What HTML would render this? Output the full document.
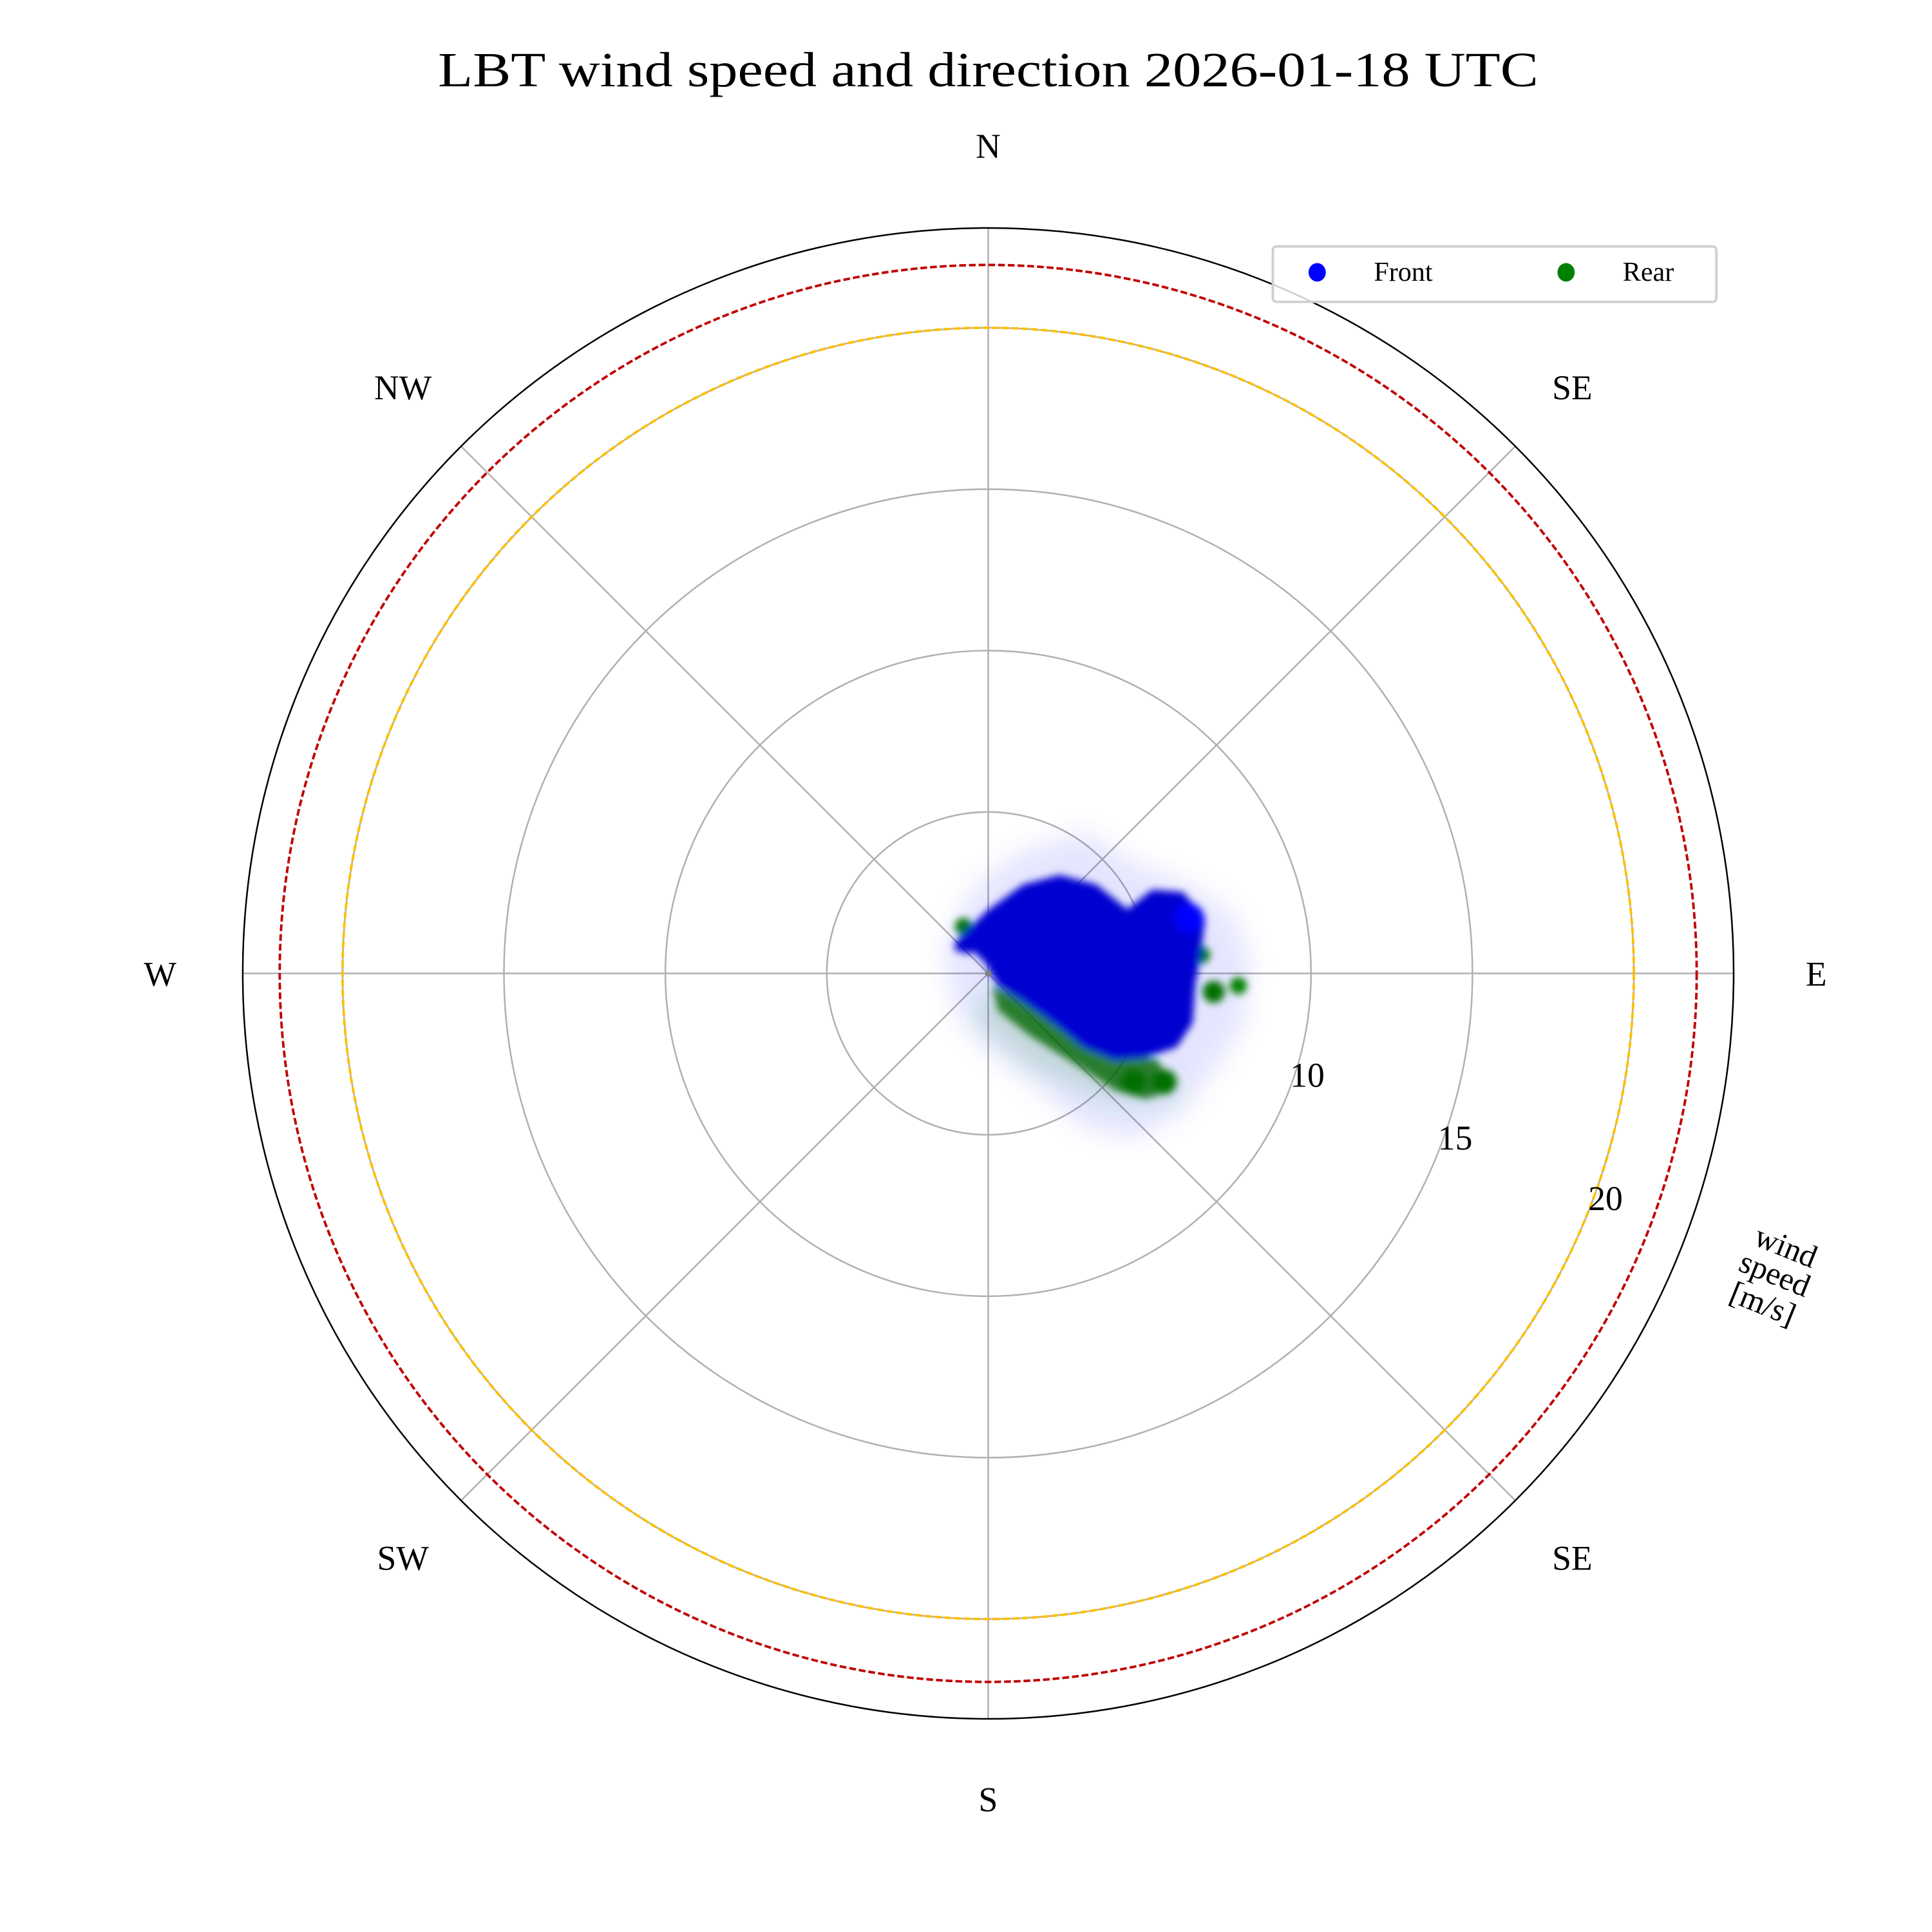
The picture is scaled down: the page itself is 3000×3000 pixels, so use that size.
<!DOCTYPE html>
<html><head><meta charset="utf-8"><style>
html,body{margin:0;padding:0;background:#fff}
svg{display:block}
text{font-family:"Liberation Serif",serif;fill:#000}
</style></head><body>
<svg width="3000" height="3000" viewBox="0 0 3000 3000" xmlns="http://www.w3.org/2000/svg">
<defs>
<filter id="b1" x="-50%" y="-50%" width="200%" height="200%"><feGaussianBlur stdDeviation="10"/></filter>
<filter id="b2" x="-50%" y="-50%" width="200%" height="200%"><feGaussianBlur stdDeviation="3"/></filter>
</defs>
<rect width="3000" height="3000" fill="#fff"/>
<g transform="scale(1.9133)">
<text x="802" y="70" font-size="40" text-anchor="middle" textLength="893" lengthAdjust="spacingAndGlyphs">LBT wind speed and direction 2026-01-18 UTC</text>
<g stroke="#b0b0b0" stroke-width="1.3" fill="none">
<circle cx="802" cy="790" r="131"/>
<circle cx="802" cy="790" r="262"/>
<circle cx="802" cy="790" r="393"/>
<circle cx="802" cy="790" r="524"/>
<line x1="802" y1="185" x2="802" y2="1395"/>
<line x1="197" y1="790" x2="1407" y2="790"/>
<line x1="374.2" y1="362.2" x2="1229.8" y2="1217.8"/>
<line x1="1229.8" y1="362.2" x2="374.2" y2="1217.8"/>
</g>
<g filter="url(#b1)">
<polygon fill="#0000ff" opacity="0.1" points="765,770 790,720 830,690 880,675 920,700 960,715 1000,740 1015,780 1010,830 985,870 955,905 920,925 880,915 840,880 800,850 775,820"/>
<polygon fill="#008000" opacity="0.15" points="800,800 850,830 900,860 950,870 960,895 900,895 840,870 790,830"/>
</g>
<g filter="url(#b2)">
<polygon fill="#006600" opacity="0.8" points="805,800 840,815 880,840 915,855 940,860 950,885 930,892 905,885 870,862 835,840 810,820"/>
<circle cx="920" cy="878" r="10" fill="#007000"/>
<circle cx="945" cy="878" r="10" fill="#007000"/>
<circle cx="985" cy="805" r="9" fill="#007000"/>
<circle cx="1005" cy="800" r="7" fill="#008000"/>
<circle cx="782" cy="752" r="7" fill="#007000"/>
<circle cx="975" cy="775" r="7" fill="#007000"/>
<polygon fill="#0000d0" points="775,765 800,740 830,718 860,710 890,718 915,738 935,722 960,724 978,745 975,772 970,800 968,830 955,850 930,858 905,860 880,850 855,830 830,812 810,800 800,782 790,772 775,772"/>
<circle cx="965" cy="745" r="12" fill="#0000ff"/>
<circle cx="785" cy="766" r="8" fill="#0000d0"/>
</g>
<circle cx="802" cy="790" r="2.5" fill="#808080"/>
<circle cx="802" cy="790" r="524" fill="none" stroke="#ffc000" stroke-width="2" stroke-dasharray="5.5 2.4"/>
<circle cx="802" cy="790" r="575" fill="none" stroke="#c00000" stroke-width="2" stroke-dasharray="5.5 2.4"/>
<circle cx="802" cy="790" r="605" fill="none" stroke="#000" stroke-width="1.3"/>
<g font-size="28" text-anchor="middle">
<text x="802" y="128">N</text>
<text x="327" y="324">NW</text>
<text x="1276" y="324">SE</text>
<text x="130" y="800">W</text>
<text x="1474" y="800">E</text>
<text x="327" y="1274">SW</text>
<text x="1276" y="1274">SE</text>
<text x="802" y="1470">S</text>
<text x="1061" y="882">10</text>
<text x="1181" y="933">15</text>
<text x="1303" y="982">20</text>
</g>
<g font-size="26" text-anchor="middle" transform="translate(1438,1040) rotate(22)">
<text x="0" y="-22">wind</text>
<text x="0" y="2">speed</text>
<text x="0" y="28">[m/s]</text>
</g>
<rect x="1033" y="200" width="360" height="45" rx="3" fill="#fff" fill-opacity="0.8" stroke="#d0d0d0" stroke-width="2"/>
<ellipse cx="1069" cy="221" rx="7" ry="7.5" fill="#0000ff"/>
<ellipse cx="1271" cy="221" rx="7" ry="7.5" fill="#008000"/>
<text x="1115" y="228" font-size="22">Front</text>
<text x="1317" y="228" font-size="22">Rear</text>
</g>
</svg>
</body></html>
